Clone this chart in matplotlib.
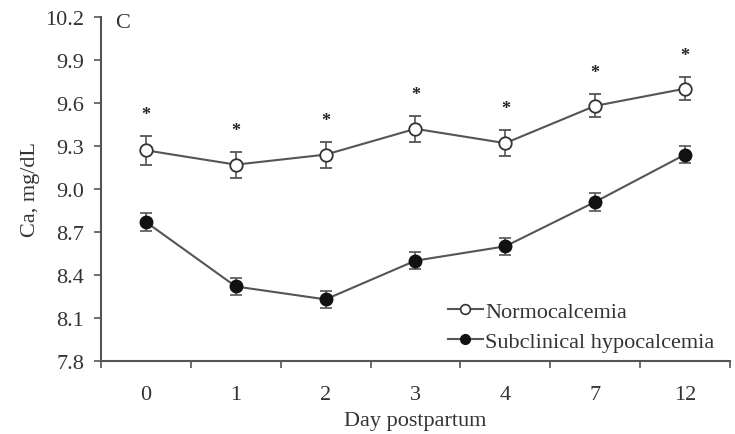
import numpy as np
import matplotlib
matplotlib.use('Agg')
import matplotlib.pyplot as plt
from matplotlib.ticker import FixedLocator
from matplotlib.lines import Line2D

plt.rcParams['font.family'] = ['Liberation Serif', 'DejaVu Serif']

dias = ['0', '1', '2', '3', '4', '7', '12']
normo = [9.27, 9.17, 9.24, 9.42, 9.32, 9.58, 9.70]
normo_ep = [0.10, 0.09, 0.09, 0.09, 0.09, 0.08, 0.08]
hipo = [8.77, 8.32, 8.23, 8.50, 8.60, 8.91, 9.24]
hipo_ep = [0.06, 0.06, 0.06, 0.06, 0.06, 0.06, 0.06]
signif = [True, True, True, True, True, True, True]

cinza = '#555555'
texto = '#333333'
fs = 16
x = np.arange(len(dias))

fig = plt.figure(figsize=(7.35, 4.35), dpi=100)
ax = fig.add_axes([0.1374, 0.1678, 0.8556, 0.7908])

ax.errorbar(x, normo, yerr=normo_ep, color=cinza, lw=1.5, marker='o', ms=9,
            mfc='white', mec='#333333', mew=1.3, capsize=4, elinewidth=1.2,
            ecolor=cinza, capthick=1.2, zorder=3)
ax.errorbar(x, hipo, yerr=hipo_ep, color=cinza, lw=1.5, marker='o', ms=9,
            mfc='#111111', mec='#111111', capsize=4, elinewidth=1.2,
            ecolor=cinza, capthick=1.2, zorder=3)

# asteriscos de significância acima da normocalcemia
for i in range(len(dias)):
    if signif[i]:
        ax.text(x[i], normo[i] + normo_ep[i] + 0.15, '*', ha='center', va='center',
                fontsize=13, color='#222222', fontweight='bold')

ax.text(-0.34, 10.165, 'C', fontsize=fs, color=texto, va='center')

ax.set_xlim(-0.5, len(dias) - 0.5)
ax.set_ylim(7.8, 10.2)
ax.set_yticks(np.arange(7.8, 10.21, 0.3))
ax.set_yticklabels([f'{v:.1f}' for v in np.arange(7.8, 10.21, 0.3)])
ax.set_xticks(x)
ax.set_xticklabels(dias)
ax.xaxis.set_minor_locator(FixedLocator(np.arange(-0.5, len(dias), 1.0)))
ax.tick_params(axis='x', which='major', length=0, pad=17, labelsize=fs, colors=texto)
ax.tick_params(axis='x', which='minor', length=5, width=1.2, color=cinza, direction='out')
ax.tick_params(axis='y', length=5, width=1.2, color=cinza, labelsize=fs,
               labelcolor=texto, pad=7)

for s in ['top', 'right']:
    ax.spines[s].set_visible(False)
for s in ['left', 'bottom']:
    ax.spines[s].set_color(cinza)
    ax.spines[s].set_linewidth(1.5)

ax.set_xlabel('Day postpartum', fontsize=fs, color=texto, labelpad=5)
ax.set_ylabel('Ca, mg/dL', fontsize=fs, color=texto, labelpad=4)

h1 = Line2D([], [], color=cinza, lw=1.5, marker='o', ms=7, mfc='white', mec='#333333', mew=1.2)
h2 = Line2D([], [], color=cinza, lw=1.5, marker='o', ms=7, mfc='#111111', mec='#111111')
leg = ax.legend([h1, h2], ['Normocalcemia', 'Subclinical hypocalcemia'],
                loc='lower right', frameon=False, fontsize=fs, handlelength=1.6,
                handletextpad=0.1, borderaxespad=0.0, bbox_to_anchor=(0.99, 0.0),
                labelspacing=0.45)
for t in leg.get_texts():
    t.set_color(texto)

fig.savefig('out.png', dpi=100)
